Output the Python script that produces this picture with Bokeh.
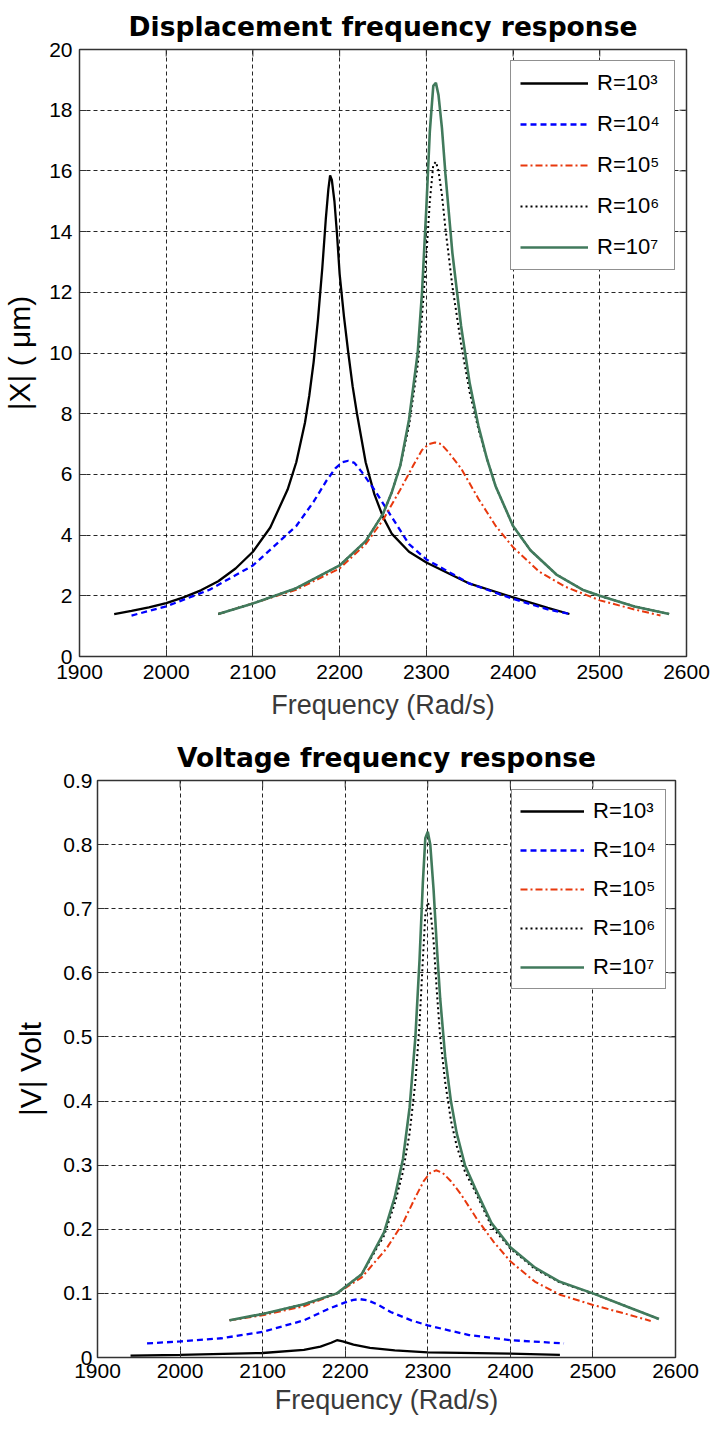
import math
from bokeh.plotting import figure
from bokeh.models import FixedTicker, Legend, LegendItem, Range1d
from bokeh.embed import file_html
from bokeh.resources import INLINE

# ---------------- data ----------------
x_ticks = [1900, 2000, 2100, 2200, 2300, 2400, 2500, 2600]
top_y_ticks = [0, 2, 4, 6, 8, 10, 12, 14, 16, 18, 20]
bot_y_ticks = [0, 0.1, 0.2, 0.3, 0.4, 0.5, 0.6, 0.7, 0.8, 0.9]
bot_y_labels = ["0", "0.1", "0.2", "0.3", "0.4", "0.5", "0.6", "0.7", "0.8", "0.9"]
series_labels = ["R=10³", "R=10⁴", "R=10⁵", "R=10⁶", "R=10⁷"]

# Displacement |X| (um)
top_f_r3 = [1940, 1960, 1980, 2000, 2020, 2040, 2060, 2080, 2100, 2120, 2140, 2150, 2160, 2165, 2170,
            2175, 2180, 2184, 2187, 2189, 2191, 2194, 2197, 2200, 2205, 2210, 2215, 2220, 2230, 2240,
            2250, 2260, 2280, 2300, 2350, 2400, 2440, 2465]
top_x_r3 = [1.40, 1.50, 1.62, 1.76, 1.95, 2.18, 2.48, 2.90, 3.45, 4.25, 5.50, 6.40, 7.70, 8.6, 9.7,
            11.1, 12.8, 14.4, 15.4, 15.85, 15.7, 15.0, 13.9, 12.6, 11.2, 10.0, 8.9, 8.0, 6.4, 5.35,
            4.6, 4.05, 3.45, 3.1, 2.4, 1.95, 1.6, 1.4]

top_f_r4 = [1960, 2000, 2050, 2100, 2150, 2170, 2185, 2195, 2203, 2210, 2217, 2225, 2240, 2260, 2280,
            2300, 2350, 2400, 2440, 2465]
top_x_r4 = [1.35, 1.65, 2.2, 3.0, 4.3, 5.1, 5.8, 6.2, 6.4, 6.45, 6.38, 6.1, 5.5, 4.6, 3.7,
            3.2, 2.4, 1.9, 1.55, 1.4]

top_f_r5 = [2060, 2100, 2150, 2200, 2230, 2250, 2270, 2285, 2295, 2303, 2310, 2317, 2325, 2340, 2360,
            2380, 2400, 2430, 2460, 2500, 2540, 2570]
top_x_r5 = [1.4, 1.75, 2.2, 2.9, 3.7, 4.5, 5.5, 6.3, 6.8, 7.0, 7.05, 7.0, 6.75, 6.2, 5.2,
            4.3, 3.6, 2.8, 2.3, 1.85, 1.55, 1.35]

top_f_r6 = [2060, 2100, 2150, 2200, 2230, 2250, 2260, 2270, 2280, 2290, 2295, 2300, 2304, 2308, 2311,
            2314, 2318, 2322, 2330, 2340, 2350, 2360, 2370, 2380, 2400, 2420, 2450, 2480, 2500, 2540,
            2580]
top_x_r6 = [1.4, 1.75, 2.25, 3.0, 3.8, 4.7, 5.4, 6.3, 7.6, 9.6, 11.2, 13.2, 15.0, 16.2, 16.3,
            16.0, 15.2, 14.1, 12.2, 10.3, 8.7, 7.5, 6.5, 5.6, 4.3, 3.5, 2.7, 2.2, 2.0, 1.65,
            1.4]

top_f_r7 = [2060, 2100, 2150, 2200, 2230, 2250, 2260, 2270, 2280, 2290, 2295, 2300, 2304, 2308, 2311,
            2314, 2318, 2322, 2330, 2340, 2350, 2360, 2370, 2380, 2400, 2420, 2450, 2480, 2500, 2540,
            2580]
top_x_r7 = [1.4, 1.75, 2.25, 3.0, 3.8, 4.7, 5.4, 6.3, 7.8, 10.0, 12.0, 14.8, 17.3, 18.8, 18.9,
            18.5, 17.4, 15.9, 13.3, 10.9, 9.0, 7.6, 6.5, 5.6, 4.3, 3.5, 2.7, 2.2, 2.0, 1.65,
            1.4]

# Voltage |V| (Volt)
bot_f_r3 = [1940, 2000, 2100, 2150, 2170, 2183, 2190, 2197, 2210, 2230, 2260, 2300, 2400, 2460]
bot_v_r3 = [0.003, 0.004, 0.007, 0.012, 0.017, 0.023, 0.027, 0.025, 0.02, 0.015, 0.011, 0.008, 0.006, 0.004]

bot_f_r4 = [1960, 2000, 2050, 2100, 2150, 2180, 2200, 2210, 2218, 2228, 2240, 2255, 2280, 2300, 2350,
            2400, 2465]
bot_v_r4 = [0.022, 0.025, 0.03, 0.04, 0.058, 0.076, 0.086, 0.09, 0.091, 0.089, 0.082, 0.071, 0.058, 0.05, 0.035,
            0.027, 0.022]

bot_f_r5 = [2060, 2100, 2150, 2190, 2220, 2250, 2270, 2285, 2295, 2303, 2310, 2318, 2328, 2340, 2360,
            2380, 2400, 2430, 2460, 2500, 2540, 2570]
bot_v_r5 = [0.058, 0.066, 0.08, 0.1, 0.125, 0.17, 0.21, 0.25, 0.275, 0.288, 0.292, 0.288, 0.275, 0.255, 0.215,
            0.18, 0.15, 0.118, 0.098, 0.082, 0.068, 0.057]

bot_f_r6 = [2060, 2100, 2150, 2190, 2220, 2247, 2260, 2270, 2278, 2285, 2290, 2294, 2297, 2300, 2303,
            2307, 2311, 2315, 2321, 2328, 2335, 2345, 2357, 2377, 2400, 2430, 2460, 2500, 2540, 2580]
bot_v_r6 = [0.058, 0.068, 0.083, 0.1, 0.13, 0.19, 0.24, 0.29, 0.35, 0.43, 0.52, 0.62, 0.69, 0.71, 0.7,
            0.65, 0.57, 0.5, 0.43, 0.37, 0.33, 0.29, 0.26, 0.205, 0.17, 0.138, 0.117, 0.1, 0.08, 0.06]

bot_f_r7 = [2060, 2100, 2150, 2190, 2220, 2247, 2260, 2270, 2278, 2285, 2290, 2294, 2297, 2300, 2303,
            2307, 2311, 2315, 2321, 2328, 2335, 2345, 2357, 2377, 2400, 2430, 2460, 2500, 2540, 2580]
bot_v_r7 = [0.058, 0.068, 0.083, 0.1, 0.13, 0.195, 0.25, 0.31, 0.39, 0.5, 0.62, 0.74, 0.81, 0.82, 0.8,
            0.73, 0.64, 0.56, 0.47, 0.4, 0.35, 0.3, 0.265, 0.21, 0.172, 0.14, 0.118, 0.1, 0.08, 0.06]

# ---------------- styling ----------------
FONT = "Liberation Sans"
TITLE_FONT = "DejaVu Sans"
styles = [
    dict(color="#000000", line_width=2.3, line_dash="solid"),
    dict(color="#0000ff", line_width=2.3, line_dash="6 4"),
    dict(color="#e8380d", line_width=2.0, line_dash="7 3 2 3"),
    dict(color="#000000", line_width=2.0, line_dash="2 3"),
    dict(color="#417a5c", line_width=2.6, line_dash="solid"),
]


def style_axis(ax, ticks, overrides, standoff):
    ax.ticker = FixedTicker(ticks=ticks)
    ax.major_label_overrides = overrides
    ax.major_tick_in = 7
    ax.major_tick_out = 0
    ax.minor_tick_in = 0
    ax.minor_tick_out = 0
    ax.axis_line_color = None
    ax.major_tick_line_color = "#333333"
    ax.major_tick_line_width = 1
    ax.major_label_text_font = FONT
    ax.major_label_text_font_size = "21px"
    ax.major_label_text_color = "#000000"
    ax.major_label_standoff = standoff


def make_plot(title, ylabel, xs, ys, y_end, y_ticks, y_over, fw, fh, borders, title_standoff,
              y_tick_standoff, ylabel_standoff, x_tick_standoff, xlabel_standoff,
              legend_margin, glyph_w, leg_spacing, leg_padding, leg_label_w):
    p = figure(frame_width=fw, frame_height=fh, x_range=Range1d(1900, 2600), y_range=Range1d(0, y_end),
               output_backend="svg", toolbar_location=None,
               min_border_left=borders[0], min_border_right=borders[1],
               min_border_top=borders[2], min_border_bottom=borders[3])
    p.background_fill_color = "white"
    p.border_fill_color = "white"
    p.outline_line_color = "#333333"
    p.outline_line_width = 1.5

    p.title.text = title
    p.title.align = "center"
    p.title.text_font = TITLE_FONT
    p.title.text_font_style = "bold"
    p.title.text_font_size = "26.5px"
    p.title.text_color = "#000000"
    p.title.standoff = title_standoff

    x_over = {t: str(t) for t in x_ticks}
    style_axis(p.xaxis[0], x_ticks, x_over, x_tick_standoff)
    style_axis(p.yaxis[0], y_ticks, y_over, y_tick_standoff)
    p.xaxis[0].axis_label = "Frequency (Rad/s)"
    p.xaxis[0].axis_label_text_font = FONT
    p.xaxis[0].axis_label_text_font_size = "27px"
    p.xaxis[0].axis_label_text_font_style = "normal"
    p.xaxis[0].axis_label_text_color = "#3a3a3a"
    p.xaxis[0].axis_label_standoff = xlabel_standoff
    p.yaxis[0].axis_label = ylabel
    p.yaxis[0].axis_label_text_font = FONT
    p.yaxis[0].axis_label_text_font_size = "30px"
    p.yaxis[0].axis_label_text_font_style = "normal"
    p.yaxis[0].axis_label_text_color = "#000000"
    p.yaxis[0].axis_label_standoff = ylabel_standoff

    for g in (p.xgrid[0], p.ygrid[0]):
        g.grid_line_color = "#000000"
        g.grid_line_alpha = 0.85
        g.grid_line_dash = "4 3"
        g.grid_line_width = 1
    p.xgrid[0].ticker = FixedTicker(ticks=x_ticks)
    p.ygrid[0].ticker = FixedTicker(ticks=y_ticks)

    # inward tick marks on the top and right edges of the box
    p.ray(x=x_ticks, y=[y_end] * len(x_ticks), length=7, length_units="screen",
          angle=-math.pi / 2, line_color="#333333", line_width=1)
    p.ray(x=[2600] * len(y_ticks), y=y_ticks, length=7, length_units="screen",
          angle=math.pi, line_color="#333333", line_width=1)

    items = []
    for fx, fy, st, lab in zip(xs, ys, styles, series_labels):
        r = p.line(fx, fy, **st)
        items.append(LegendItem(label=lab, renderers=[r]))

    leg = Legend(items=items, location="top_right")
    leg.margin = legend_margin
    leg.padding = leg_padding
    leg.spacing = leg_spacing
    leg.glyph_width = glyph_w
    leg.glyph_height = 20
    leg.label_standoff = 9
    leg.label_width = leg_label_w
    leg.label_text_font = FONT
    leg.label_text_font_size = "22px"
    leg.label_text_color = "#000000"
    leg.border_line_color = "#222222"
    leg.border_line_width = 1
    leg.background_fill_color = "white"
    leg.background_fill_alpha = 1
    p.add_layout(leg)
    return p


p1 = make_plot("Displacement frequency response", "|X| ( μm)",
               [top_f_r3, top_f_r4, top_f_r5, top_f_r6, top_f_r7],
               [top_x_r3, top_x_r4, top_x_r5, top_x_r6, top_x_r7],
               20, top_y_ticks, {t: str(t) for t in top_y_ticks},
               607, 607, (78, 26, 47, 60), 16,
               7, 10, 8, 8, 11, 68, 15, 9, 68)

p2 = make_plot("Voltage frequency response", "|V| Volt",
               [bot_f_r3, bot_f_r4, bot_f_r5, bot_f_r6, bot_f_r7],
               [bot_v_r3, bot_v_r4, bot_v_r5, bot_v_r6, bot_v_r7],
               0.9, bot_y_ticks, dict(zip(bot_y_ticks, bot_y_labels)),
               578, 577, (97, 28, 58, 55), 16,
               5, 13, 6, 4, 9, 64, 13, 8, 64)

open("out.html", "w").write(file_html([p1, p2], INLINE))
